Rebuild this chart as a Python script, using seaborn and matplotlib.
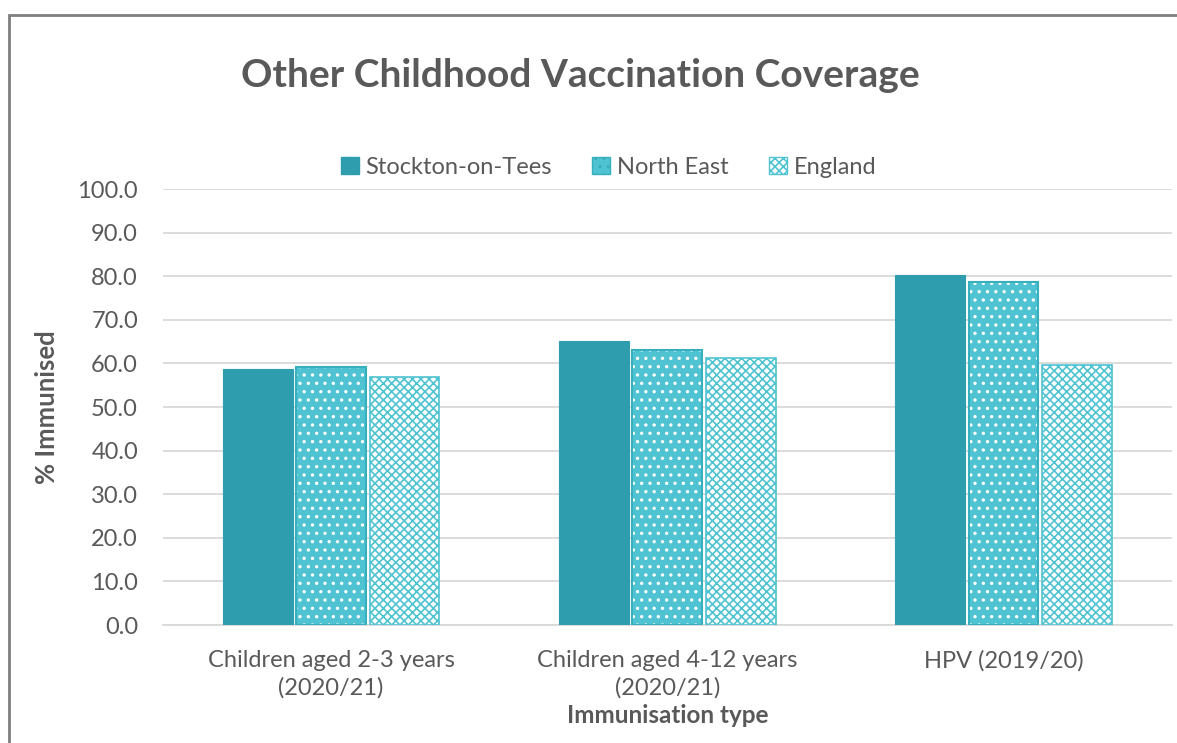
import numpy as np
import pandas as pd
import seaborn as sns
import matplotlib.pyplot as plt
from matplotlib.patches import Patch, Rectangle

# values
categories = ["Children aged 2-3 years\n(2020/21)", "Children aged 4-12 years\n(2020/21)", "HPV (2019/20)"]
areas      = ["Stockton-on-Tees", "North East", "England"]
stockton   = [58.7, 65.1, 80.3]
north_east = [59.2, 63.1, 78.7]
england    = [56.9, 61.2, 59.6]

df = pd.DataFrame({
    "type": categories * 3,
    "area": [a for a in areas for _ in categories],
    "value": stockton + north_east + england,
})

dark  = "#2E9DAE"
light = "#4FC3D1"
edge2 = "#36AFBF"
grey  = "#595959"

sns.set_style("white")
plt.rcParams['font.family'] = ['Lato', 'DejaVu Sans']
plt.rcParams['hatch.linewidth'] = 1.2

fig = plt.figure(figsize=(11.77, 7.43), dpi=100)
ax = fig.add_axes([0.1385, 0.1588, 0.857, 0.5868])

sns.barplot(data=df, x="type", y="value", hue="area", hue_order=areas,
            palette=[dark, light, "white"], saturation=1, width=0.655, gap=0.05,
            legend=False, ax=ax, zorder=3)

# style the bars: solid / dotted / cross-hatched
for i, bar in enumerate(ax.patches):
    grp = i // len(categories)
    x, y = bar.get_x(), bar.get_y()
    w, h = bar.get_width(), bar.get_height()
    if grp == 0:
        bar.set_edgecolor(dark)
        bar.set_linewidth(0.8)
    elif grp == 1:
        bar.set_hatch("..")
        bar.set_edgecolor("white")
        bar.set_linewidth(0)
        ax.add_patch(Rectangle((x, y), w, h, fill=False, edgecolor=edge2, lw=1.5, zorder=4))
    else:
        bar.set_hatch("xxxx")
        bar.set_edgecolor(light)
        bar.set_linewidth(1.2)

ax.set_ylim(0, 100)
ax.set_yticks(np.arange(0, 101, 10))
ax.set_yticklabels([f"{v:.1f}" for v in np.arange(0, 101, 10)])
ax.grid(axis="y", color="#D9D9D9", lw=1.3, zorder=0)
ax.set_axisbelow(True)
for s in ["left", "right", "top"]:
    ax.spines[s].set_visible(False)
ax.spines["bottom"].set_color("#D9D9D9")
ax.spines["bottom"].set_linewidth(1.3)
ax.tick_params(axis="both", length=0, labelsize=17, colors=grey)
ax.tick_params(axis="y", pad=18)
ax.tick_params(axis="x", pad=18)
for lbl in ax.get_xticklabels():
    lbl.set_linespacing(1.35)

ax.set_xlabel("Immunisation type", fontsize=17.5, fontweight="bold", color=grey, labelpad=4)
ax.set_ylabel("% Immunised", fontsize=18.5, fontweight="bold", color=grey, labelpad=13)

handles = [
    Patch(facecolor=dark, edgecolor=dark, label=areas[0]),
    Patch(facecolor=light, edgecolor=edge2, hatch="..", label=areas[1]),
    Patch(facecolor="white", edgecolor=light, hatch="xxxx", label=areas[2]),
]
fig.legend(handles=handles, loc="center", bbox_to_anchor=(0.517, 0.775), ncol=3,
           frameon=False, fontsize=17, handlelength=0.75, handleheight=0.75,
           handletextpad=0.3, columnspacing=1.7, labelcolor=grey)

fig.text(0.493, 0.898, "Other Childhood Vaccination Coverage", ha="center", va="center",
         fontsize=28, fontweight="bold", color=grey)

# chart-area frame as in the spreadsheet export
fig.add_artist(Rectangle((0.008, -0.05), 1.1, 1.03, transform=fig.transFigure,
                         fill=False, edgecolor="#7F7F7F", lw=2))

fig.savefig("out.png", dpi=100)
